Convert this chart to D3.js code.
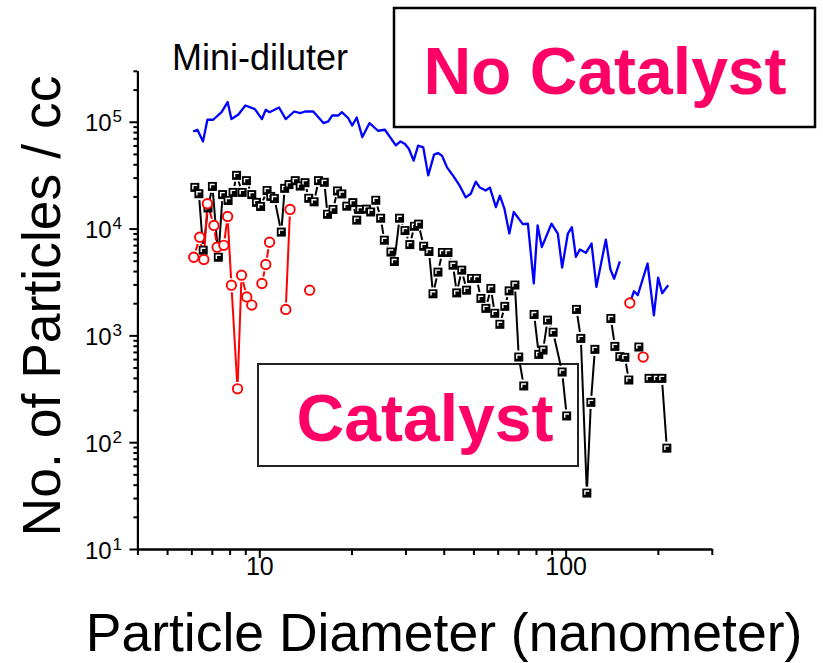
<!DOCTYPE html>
<html>
<head>
<meta charset="utf-8">
<title>Mini-diluter particle size distribution</title>
<script src="https://d3js.org/d3.v7.min.js"></script>
<style>
    body { margin: 0; background: #ffffff; }
    svg { display: block; font-family: "Liberation Sans", Arial, sans-serif; }
</style>
</head>
<body>
<div id="chart"></div>
<script>
// No catalyst (blue line)
const blueD = [6.08, 6.28, 6.55, 6.77, 7.07, 7.53, 7.88, 8.11, 8.53, 9.01, 9.67, 10.2, 10.5, 10.8, 11.6, 12.2, 13.0, 13.6, 14.1, 15.0,
    16.2, 16.8, 17.3, 18.1, 18.6, 19.5, 20.1, 20.8, 21.7, 22.9, 24.4, 25.7, 27.9, 28.9, 29.9, 30.8, 31.9, 33.0, 34.3, 35.6,
    37.2, 38.3, 39.5, 41.0, 42.9, 45.1, 47.2, 49.0, 50.9, 52.5, 54.8, 56.6, 59.2, 61.0, 63.1, 65.5, 67.7, 72.5, 75.3, 78.7,
    81.0, 83.6, 89.9, 94.3, 97.4, 101.7, 104.8, 108.0, 111.3, 116.4, 121.5, 126.0, 135.3, 139.9, 144.0, 150.3, null,
    162.0, 167.2, 172.0, 185.1, 194.1, 200.4, 206.6, 216.1];
const blueN = [81100, 84200, 65500, 104400, 104400, 123000, 152800, 106000, 116200, 142000, 131500, 106000, 129500, 123000, 136000, 106000, 124800, 120500, 124800, 124800,
    97200, 100700, 114500, 114500, 123000, 108400, 92300, 109700, 71900, 97200, 82400, 84200, 60100, 65500, 61900, 55600, 43200, 59700, 57500, 31500,
    49200, 51000, 48100, 37400, 31300, 25200, 19600, 21200, 27500, 24200, 22700, 24200, 15900, 20300, 15400, 8980, 14300, 11000, 11100, 3060,
    10700, 6710, 11100, 8980, 4320, 8980, 10300, 5440, 6360, 5930, 7240, 2840, 7890, 4180, 3390, 4940, null,
    2000, 2590, 2380, 4710, 1540, 3480, 2480, 2950];

// second run (black squares)
const blackD = [6.16, 6.35, 6.56, 6.80, 7.03, 7.35, 7.59, 7.91, 8.21, 8.43, 8.79, 9.08, 9.45, 9.79, 10.1, 10.6, 10.9, 11.2, 11.8, 12.1,
    12.5, 13.1, 13.6, 14.1, 14.5, 15.1, 15.6, 16.3, 16.7, 17.4, 18.0, 18.6, 19.3, 20.2, 20.8, 21.3, 22.4, 23.1, 24.0, 24.9,
    25.6, 26.9, 27.6, 28.7, 29.9, 31.0, 32.1, 33.1, 34.4, 35.8, 36.9, 38.3, 39.6, 41.3, 42.9, 44.1, 45.8, 47.5, 49.3, 51.2,
    52.9, 54.9, 57.0, 58.7, 61.0, 63.3, 65.4, 68.3, 70.3, 73.0, null, 78.9, 81.7, 84.4, 87.3, 91.0, 97.4, 100.8, null,
    108.5, 112.1, 117.3, 120.9, 124.6, null, 140.5, 144.8, 150.3, 156.1, 160.8, null, 173.4, null, 187.2, 198.1, 206.2, 214.0];
const blackN = [24300, 21200, 6270, 15600, 24800, 5390, 20800, 18300, 21800, 31500, 21800, 28100, 20800, 17600, 16100, 22700, 20000, 19100, 9270, 23800,
    25800, 28100, 25000, 26900, 19200, 17800, 28100, 27100, 13600, 15100, 22500, 21100, 16200, 17500, 12000, 15100, 15200, 14300, 18400, 12500,
    7780, 6030, 4920, 12500, 9580, 7080, 10500, 11000, 6830, 6100, 2450, 3910, 5970, 5970, 4540, 2500, 4080, 2650, 3410, 3410,
    2220, 1790, 2750, 1610, 1270, 1870, 2610, 2960, 627, 336, null, 1570, 664, 729, 1390, 1070, 454, 176, null,
    1750, 937, 33.4, 236, 740, null, 1440, 789, 632, 623, 382, null, 778, null, 396, 396, 396, 87.9];

// catalyst (red circles)
const redD = [6.11, 6.39, 6.59, 6.77, 7.11, 7.28, 7.66, 7.88, 8.11, 8.49, 8.75, 9.10, 9.45, null, 10.2, 10.5, 10.8, null,
    12.2, 12.6, null, 14.6, null, 162.0, null, 179.1];
const redN = [5390, 8300, 5130, 17100, 10700, 6690, 6970, 13000, 2950, 316, 3660, 2290, 1920, null, 3060, 4610, 7450, null,
    1750, 15100, null, 2650, null, 2010, null, 627];

const xMajor = [10, 100];
const xMinor = [4, 5, 6, 7, 8, 9, 20, 30, 40, 50, 60, 70, 80, 90, 200, 300];
const yMajor = [10, 100, 1000, 10000, 100000];
const yExp = ['1', '2', '3', '4', '5'];

const W = 823, H = 663;
const pink = '#ff0066';

const svg = d3.select('#chart').append('svg')
    .attr('width', W)
    .attr('height', H);

const x = d3.scaleLog().domain([4, 300]).range([137.4, 711.8]);
const y = d3.scaleLog().domain([10, 3e5]).range([549, 70.8]);

// y minor ticks: 2..9 in every decade, up to 3e5
const yMinor = [];
[10, 100, 1000, 10000, 100000].forEach(dec => {
    for (let k = 2; k <= 9; k++) {
        if (dec * k <= 3e5) yMinor.push(dec * k);
    }
});

// Catalyst box (behind data)
svg.append('rect')
    .attr('x', 258).attr('y', 364)
    .attr('width', 320).attr('height', 102)
    .attr('fill', 'none')
    .attr('stroke', '#222')
    .attr('stroke-width', 2);

svg.append('text')
    .attr('x', 425).attr('y', 441)
    .attr('text-anchor', 'middle')
    .style('font-size', '66px')
    .style('font-weight', 'bold')
    .style('fill', pink)
    .text('Catalyst');

// Axes
const xAxisMinor = d3.axisBottom(x).tickValues(xMinor).tickSizeInner(6).tickSizeOuter(0).tickFormat('');
const xAxisMajor = d3.axisBottom(x).tickValues(xMajor).tickSizeInner(9).tickSizeOuter(0).tickFormat(d3.format('d'));
const yAxisMinor = d3.axisLeft(y).tickValues(yMinor).tickSizeInner(4).tickSizeOuter(0).tickFormat('');
const yAxisMajor = d3.axisLeft(y).tickValues(yMajor).tickSizeInner(8).tickSizeOuter(0).tickFormat('');

function styleAxis(g) {
    g.selectAll('path, line').attr('stroke', '#000').attr('stroke-width', 2);
}

svg.append('g').attr('transform', 'translate(0,549)').call(xAxisMinor).call(styleAxis);
const gx = svg.append('g').attr('transform', 'translate(0,549)').call(xAxisMajor).call(styleAxis);
gx.selectAll('text')
    .attr('y', 8)
    .attr('dy', '0.71em')
    .style('font-size', '25px')
    .style('font-family', '"Liberation Sans", Arial, sans-serif')
    .attr('fill', '#000');

svg.append('g').attr('transform', 'translate(137.4,0)').call(yAxisMinor).call(styleAxis);
svg.append('g').attr('transform', 'translate(137.4,0)').call(yAxisMajor).call(styleAxis);

// y tick labels as 10 with superscript exponent
const yLab = svg.append('g');
yMajor.forEach((v, i) => {
    yLab.append('text')
        .attr('x', 111.7)
        .attr('y', y(v) + 9.5)
        .attr('text-anchor', 'end')
        .style('font-size', '24px')
        .text('10');
    yLab.append('text')
        .attr('x', 112.5)
        .attr('y', y(v) + 0.5)
        .style('font-size', '17px')
        .text(yExp[i]);
});

// line segments with a gap at each symbol
function gappedSegments(D, N, gap) {
    const segs = [];
    for (let i = 0; i < D.length - 1; i++) {
        if (D[i] == null || D[i + 1] == null || N[i] == null || N[i + 1] == null) continue;
        const x0 = x(D[i]), y0 = y(N[i]), x1 = x(D[i + 1]), y1 = y(N[i + 1]);
        const len = Math.hypot(x1 - x0, y1 - y0);
        if (len <= 2 * gap) continue;
        const ux = (x1 - x0) / len, uy = (y1 - y0) / len;
        segs.push([x0 + ux * gap, y0 + uy * gap, x1 - ux * gap, y1 - uy * gap]);
    }
    return segs;
}

const blueData = blueD.map((d, i) => [d, blueN[i]]);
const line = d3.line()
    .defined(p => p[0] != null && p[1] != null)
    .x(p => x(p[0]))
    .y(p => y(p[1]));

svg.append('path')
    .datum(blueData)
    .attr('d', line)
    .attr('fill', 'none')
    .attr('stroke', '#0000ff')
    .attr('stroke-width', 2.3)
    .attr('stroke-linejoin', 'round');

// black series
svg.append('g').selectAll('line')
    .data(gappedSegments(blackD, blackN, 6.5))
    .enter().append('line')
    .attr('x1', s => s[0]).attr('y1', s => s[1])
    .attr('x2', s => s[2]).attr('y2', s => s[3])
    .attr('stroke', '#000')
    .attr('stroke-width', 2);

// red series
svg.append('g').selectAll('line')
    .data(gappedSegments(redD, redN, 7))
    .enter().append('line')
    .attr('x1', s => s[0]).attr('y1', s => s[1])
    .attr('x2', s => s[2]).attr('y2', s => s[3])
    .attr('stroke', '#ff0000')
    .attr('stroke-width', 2);

const blackPts = blackD.map((d, i) => [d, blackN[i]]).filter(p => p[0] != null && p[1] != null);
const sq = svg.append('g').selectAll('g')
    .data(blackPts)
    .enter().append('g')
    .attr('transform', p => `translate(${x(p[0])},${y(p[1])})`);
sq.append('rect')
    .attr('x', -4.5).attr('y', -4.5)
    .attr('width', 9).attr('height', 9)
    .attr('fill', '#000');
sq.append('path')
    .attr('d', 'M-2,1.8V-2H2.3')
    .attr('fill', 'none')
    .attr('stroke', '#fff')
    .attr('stroke-width', 1.4);

const redPts = redD.map((d, i) => [d, redN[i]]).filter(p => p[0] != null && p[1] != null);
svg.append('g').selectAll('circle')
    .data(redPts)
    .enter().append('circle')
    .attr('cx', p => x(p[0]))
    .attr('cy', p => y(p[1]))
    .attr('r', 4.7)
    .attr('fill', '#fff')
    .attr('stroke', '#ff0000')
    .attr('stroke-width', 1.9);

// No Catalyst box
svg.append('rect')
    .attr('x', 394).attr('y', 8)
    .attr('width', 421).attr('height', 119)
    .attr('fill', '#fff')
    .attr('stroke', '#000')
    .attr('stroke-width', 2.5);

svg.append('text')
    .attr('x', 605).attr('y', 94)
    .attr('text-anchor', 'middle')
    .style('font-size', '66px')
    .style('font-weight', 'bold')
    .style('fill', pink)
    .text('No Catalyst');

svg.append('text')
    .attr('x', 172).attr('y', 70)
    .style('font-size', '36px')
    .text('Mini-diluter');

// axis titles
svg.append('text')
    .attr('x', 444).attr('y', 651)
    .attr('text-anchor', 'middle')
    .style('font-size', '53.5px')
    .text('Particle Diameter (nanometer)');

svg.append('text')
    .attr('transform', 'translate(60,306) rotate(-90)')
    .attr('text-anchor', 'middle')
    .style('font-size', '53.5px')
    .text('No. of Particles / cc');
</script>
</body>
</html>
